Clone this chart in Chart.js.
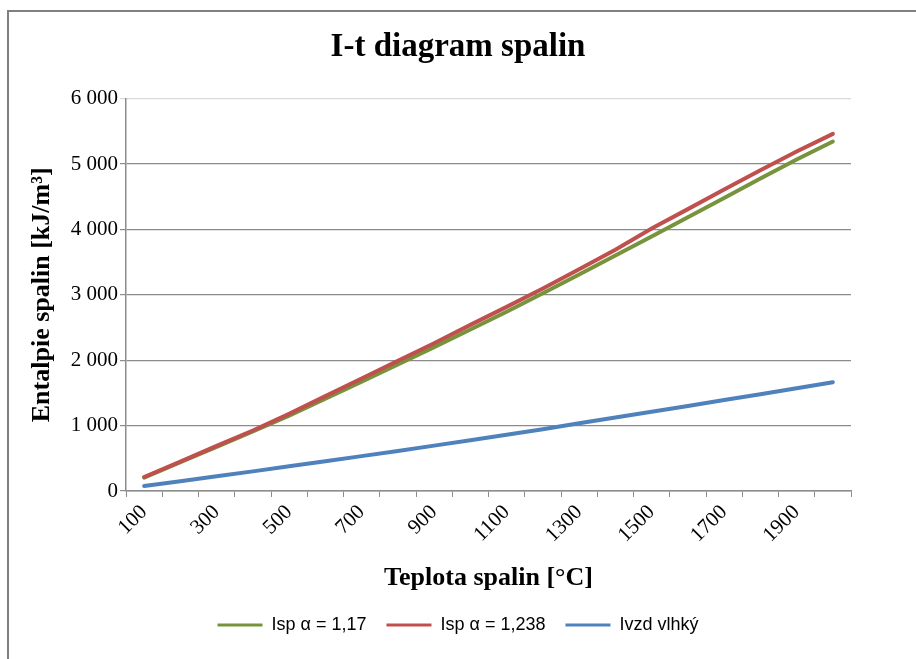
<!DOCTYPE html>
<html>
<head>
<meta charset="utf-8">
<script src="https://cdn.jsdelivr.net/npm/chart.js@4/dist/chart.umd.min.js"></script>
<style>
  html, body { margin: 0; padding: 0; background: #fff; }
  #wrap { width: 916px; height: 659px; }
</style>
</head>
<body>
<div id="wrap"><canvas id="itChart" width="916" height="659"></canvas></div>
<script>
// teplota spalin [°C]
const teploty = [100, 200, 300, 400, 500, 600, 700, 800, 900, 1000,
                 1100, 1200, 1300, 1400, 1500, 1600, 1700, 1800, 1900, 2000];
// entalpie [kJ/m3]
const ispA117 = [205, 440, 675, 910, 1150, 1410, 1670, 1935, 2200, 2470,
                 2740, 3025, 3310, 3600, 3890, 4185, 4480, 4780, 5070, 5344];
const ispA1238 = [214, 450, 690, 925, 1180, 1450, 1720, 1990, 2260, 2540,
                  2815, 3095, 3390, 3690, 4015, 4310, 4610, 4905, 5190, 5461];
const ivzdVlhky = [76, 150, 225, 300, 377, 455, 533, 613, 694, 776,
                   860, 945, 1035, 1123, 1211, 1300, 1390, 1480, 1572, 1664];
const yTicks = [0, 1000, 2000, 3000, 4000, 5000, 6000];

const serif = "'Liberation Serif', 'Times New Roman', serif";
const gridGray = '#8c8c8c';

// ramecek grafu (jen horni a leva hrana)
const frame = {
    id: 'frame',
    afterDraw(chart) {
        const c = chart.ctx;
        c.save();
        c.strokeStyle = '#808080';
        c.lineWidth = 2;
        c.beginPath();
        c.moveTo(7, 11);
        c.lineTo(916, 11);
        c.moveTo(8, 10);
        c.lineTo(8, 659);
        c.stroke();
        c.restore();
    }
};

function fmt(v) {
    return String(v).replace(/\B(?=(\d{3})+(?!\d))/g, ' ');
}

const ctx = document.getElementById('itChart').getContext('2d');
new Chart(ctx, {
    type: 'line',
    data: {
        labels: teploty,
        datasets: [
            { label: 'Isp α = 1,17', data: ispA117, borderColor: '#77933C', backgroundColor: '#77933C', order: 3 },
            { label: 'Isp α = 1,238', data: ispA1238, borderColor: '#C0504D', backgroundColor: '#C0504D', order: 2 },
            { label: 'Ivzd vlhký', data: ivzdVlhky, borderColor: '#4F81BD', backgroundColor: '#4F81BD', order: 1 }
        ]
    },
    options: {
        responsive: false,
        animation: false,
        elements: {
            line: { borderWidth: 4, tension: 0, borderCapStyle: 'round' },
            point: { radius: 0 }
        },
        layout: { padding: { left: 0, right: 0, top: 0, bottom: 15 } },
        plugins: {
            title: {
                display: true,
                text: 'I-t diagram spalin',
                color: '#000',
                font: { family: serif, size: 33, weight: 'bold' },
                padding: { top: 28, bottom: 31 }
            },
            legend: {
                position: 'bottom',
                labels: {
                    color: '#000',
                    font: { family: "'Liberation Sans', Arial, sans-serif", size: 18 },
                    boxWidth: 45,
                    boxHeight: 3,
                    padding: 20,
                    sort: (a, b) => a.datasetIndex - b.datasetIndex,
                    generateLabels(chart) {
                        return chart.data.datasets.map((ds, i) => ({
                            text: ds.label,
                            fillStyle: ds.borderColor,
                            strokeStyle: ds.borderColor,
                            lineWidth: 0,
                            fontColor: '#000',
                            datasetIndex: i,
                            hidden: false
                        }));
                    }
                }
            },
            tooltip: { enabled: false }
        },
        scales: {
            x: {
                type: 'category',
                offset: true,
                afterFit(scale) { scale.height = 105; },
                grid: {
                    offset: true,
                    drawOnChartArea: false,
                    drawTicks: true,
                    tickLength: 6,
                    color: gridGray
                },
                border: { color: gridGray, width: 1.5 },
                ticks: {
                    autoSkip: false,
                    minRotation: 45,
                    maxRotation: 45,
                    padding: 3,
                    color: '#000',
                    font: { family: serif, size: 21 },
                    callback(val, i) { return i % 2 === 0 ? this.getLabelForValue(val) : ''; }
                },
                title: {
                    display: true,
                    text: 'Teplota spalin [°C]',
                    color: '#000',
                    font: { family: serif, size: 26, weight: 'bold' },
                    padding: { top: 0, bottom: 2 }
                }
            },
            y: {
                min: yTicks[0],
                max: yTicks[yTicks.length - 1],
                afterFit(scale) { scale.width = 126; },
                afterBuildTicks(scale) { scale.ticks = yTicks.map(v => ({ value: v })); },
                grid: {
                    drawTicks: true,
                    tickLength: 6,
                    lineWidth: 1.2,
                    color: (c) => (c.tick && c.tick.value === 6000 ? '#d9d9d9' : gridGray)
                },
                border: { color: gridGray, width: 1.5 },
                ticks: {
                    padding: 2,
                    color: '#000',
                    font: { family: serif, size: 21 },
                    callback: (v) => fmt(v)
                },
                title: {
                    display: true,
                    text: 'Entalpie spalin [kJ/m³]',
                    color: '#000',
                    font: { family: serif, size: 26, weight: 'bold' },
                    padding: { top: 27, bottom: 0 }
                }
            },
            // prazdny okraj vpravo od grafu
            okraj: {
                position: 'right',
                display: true,
                afterFit(scale) { scale.width = 65; },
                grid: { display: false, drawTicks: false },
                border: { display: false },
                ticks: { display: false }
            }
        }
    },
    plugins: [frame]
});
</script>
</body>
</html>
